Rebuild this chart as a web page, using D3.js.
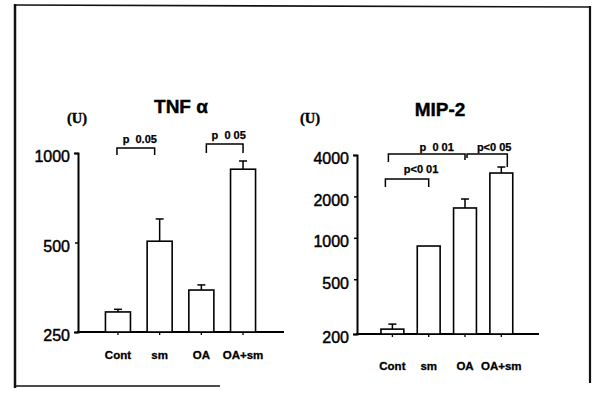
<!DOCTYPE html>
<html>
<head>
<meta charset="utf-8">
<script src="https://cdn.jsdelivr.net/npm/d3@7/dist/d3.min.js"></script>
<style>
  body { margin: 0; background: #fff; }
  svg { display: block; font-family: 'Liberation Sans', Arial, sans-serif; }
</style>
</head>
<body>
<div id="chart"></div>
<script>
const categories = ['Cont', 'sm', 'OA', 'OA+sm'];

// TNF alpha panel
const tnfMean = [292, 505, 346, 882];
const tnfErr = [6, 95, 14, 58];
const tnfTicks = [250, 500, 1000];
const tnfPairs = [['Cont', 'sm', 'p  0.05'], ['OA', 'OA+sm', 'p  0 05']];

// MIP-2 panel
const mipMean = [217, 872, 1648, 2958];
const mipErr = [19, 0, 267, 314];
const mipTicks = [200, 500, 1000, 2000, 4000];
const mipPairs = [['Cont', 'OA', 'p  0 01'], ['OA', 'OA+sm', 'p<0 05'], ['Cont', 'sm', 'p<0 01']];

const width = 595, height = 393;

const svg = d3.select('#chart').append('svg')
  .attr('width', width)
  .attr('height', height);

// scanned page frame
const frame = svg.append('g').attr('stroke', '#111').attr('fill', 'none');
frame.append('line').attr('x1', 15).attr('y1', 4).attr('x2', 15).attr('y2', 388).attr('stroke-width', 2.5);
frame.append('line').attr('x1', 14).attr('y1', 5).attr('x2', 591).attr('y2', 7).attr('stroke-width', 1.6);
frame.append('line').attr('x1', 590).attr('y1', 6).attr('x2', 590).attr('y2', 383).attr('stroke-width', 2.2);
frame.append('line').attr('x1', 15).attr('y1', 386).attr('x2', 220).attr('y2', 386).attr('stroke-width', 1.4);

const panels = [
  {
    title: 'TNF α', titleX: 181, titleY: 113, unitX: 67,
    mean: tnfMean, err: tnfErr, ticks: tnfTicks, pairs: tnfPairs,
    domain: [250, 1000], top: 153, bottom: 332,
    axisX: 78, xEnd: 284, xRange: [84.6, 276.4], padIn: 0.4,
    labelY: 359,
    brackets: [
      {y: 148, legs: [7, 7], dx: [-1, -5], tx: 4, ty: -5},
      {y: 144, legs: [9, 9], dx: [5, 0], tx: 4, ty: -5}
    ]
  },
  {
    title: 'MIP-2', titleX: 440, titleY: 116, unitX: 300,
    mean: mipMean, err: mipErr, ticks: mipTicks, pairs: mipPairs,
    domain: [200, 4000], top: 155, bottom: 334,
    axisX: 357, xEnd: 539, xRange: [362.8, 530.9], padIn: 0.37,
    labelY: 370,
    brackets: [
      {y: 154, legs: [8, 6], dx: [-4, 0], tx: 10, ty: -3},
      {y: 154, legs: [4, 13], dx: [2, 6], tx: 7, ty: -3},
      {y: 179, legs: [8, 8], dx: [-7, 0], tx: 14, ty: -6}
    ]
  }
];

const drawPanel = p => {
  const g = svg.append('g');

  const x = d3.scaleBand()
    .domain(categories)
    .range(p.xRange)
    .paddingInner(p.padIn)
    .paddingOuter(0.5);

  const y = d3.scaleLog()
    .domain(p.domain)
    .range([p.bottom, p.top]);

  const cx = c => x(c) + x.bandwidth() / 2;

  // title and unit
  g.append('text')
    .text(p.title)
    .attr('x', p.titleX)
    .attr('y', p.titleY)
    .attr('text-anchor', 'middle')
    .attr('stroke', '#000')
    .attr('stroke-width', 0.4)
    .style('font-size', '19px')
    .style('font-weight', 'bold');

  g.append('text')
    .text('(U)')
    .attr('x', p.unitX)
    .attr('y', 123)
    .attr('stroke', '#000')
    .attr('stroke-width', 0.4)
    .style('font-size', '14.5px')
    .style('font-weight', 'bold')
    .style('font-family', '"Liberation Serif", serif');

  // y axis
  const yAxis = g.append('g')
    .attr('transform', `translate(${p.axisX},0)`)
    .call(d3.axisLeft(y)
      .tickValues(p.ticks)
      .tickFormat(d3.format('d'))
      .tickSizeInner(3)
      .tickSizeOuter(4)
      .tickPadding(5));

  yAxis.select('.domain').attr('stroke', '#000').attr('stroke-width', 2);
  yAxis.selectAll('.tick line').attr('stroke', '#000').attr('stroke-width', 1.5);
  yAxis.selectAll('.tick text')
    .attr('fill', '#000')
    .attr('stroke', '#000')
    .attr('stroke-width', 0.45)
    .attr('dy', '0.55em')
    .style('font-size', '16px')
    .style('font-family', '"Liberation Sans", Arial, sans-serif');

  // x axis
  const xAxis = g.append('g')
    .attr('transform', `translate(0,${p.bottom})`)
    .call(d3.axisBottom(x).tickSize(3).tickFormat(''));

  xAxis.select('.domain').remove();
  xAxis.selectAll('.tick line').attr('stroke', '#000').attr('stroke-width', 1.3);
  xAxis.append('line')
    .attr('x1', p.axisX - 1)
    .attr('x2', p.xEnd)
    .attr('stroke', '#000')
    .attr('stroke-width', 2);

  g.selectAll('.xlabel')
    .data(categories)
    .join('text')
      .attr('class', 'xlabel')
      .text(d => d)
      .attr('x', d => cx(d))
      .attr('y', p.labelY)
      .attr('text-anchor', 'middle')
      .attr('stroke', '#000')
      .attr('stroke-width', 0.3)
      .style('font-size', '11.5px')
      .style('font-weight', 'bold');

  // bars
  const data = categories.map((c, i) => ({cat: c, mean: p.mean[i], err: p.err[i]}));

  g.append('g')
    .selectAll('rect')
    .data(data)
    .join('rect')
      .attr('x', d => x(d.cat))
      .attr('y', d => y(d.mean))
      .attr('width', x.bandwidth())
      .attr('height', d => p.bottom - y(d.mean))
      .attr('fill', '#fff')
      .attr('stroke', '#000')
      .attr('stroke-width', 1.6);

  // error bars
  const errG = g.append('g')
    .attr('stroke', '#000')
    .attr('stroke-width', 1.5)
    .selectAll('g')
    .data(data.filter(d => d.err > 0))
    .join('g');

  errG.append('line')
    .attr('x1', d => cx(d.cat))
    .attr('x2', d => cx(d.cat))
    .attr('y1', d => y(d.mean))
    .attr('y2', d => y(d.mean + d.err));

  errG.append('line')
    .attr('x1', d => cx(d.cat) - 4)
    .attr('x2', d => cx(d.cat) + 4)
    .attr('y1', d => y(d.mean + d.err))
    .attr('y2', d => y(d.mean + d.err));

  // significance brackets
  p.pairs.forEach((pair, i) => {
    const b = p.brackets[i];
    const x1 = cx(pair[0]) + b.dx[0], x2 = cx(pair[1]) + b.dx[1];

    g.append('path')
      .attr('d', `M${x1},${b.y + b.legs[0]}V${b.y}H${x2}V${b.y + b.legs[1]}`)
      .attr('fill', 'none')
      .attr('stroke', '#000')
      .attr('stroke-width', 1.5);

    g.append('text')
      .text(pair[2])
      .attr('x', (x1 + x2) / 2 + b.tx)
      .attr('y', b.y + b.ty)
      .attr('text-anchor', 'middle')
      .attr('stroke', '#000')
      .attr('stroke-width', 0.25)
      .style('font-size', '11px')
      .style('font-weight', 'bold')
      .style('white-space', 'pre');
  });
};

panels.forEach(drawPanel);
</script>
</body>
</html>
